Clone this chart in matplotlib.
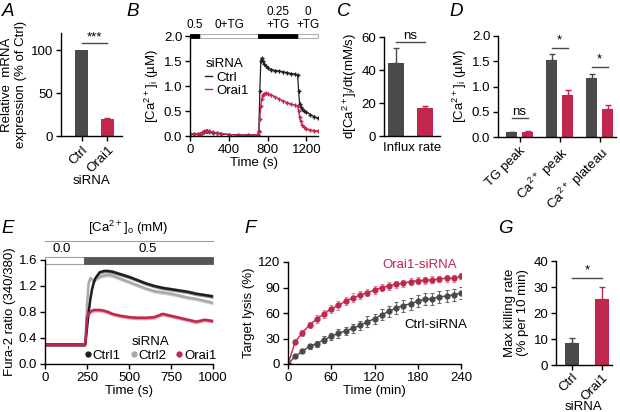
import numpy as np
import matplotlib
matplotlib.use('Agg')
import matplotlib.pyplot as plt
from matplotlib.lines import Line2D
from matplotlib.patches import Rectangle
import matplotlib.transforms as mtransforms

plt.rcParams['font.family'] = ['Liberation Sans', 'DejaVu Sans']
plt.rcParams['font.size'] = 9.5
plt.rcParams['mathtext.default'] = 'regular'
plt.rcParams['axes.linewidth'] = 1.0

GREY = '#4a4a4a'
RED = '#c1264c'
LIGHT = '#a9a9a9'
BLACK = '#1e1e1e'

# ---- A: mRNA expression
a_labels = ['Ctrl', 'Orai1']
a_mrna = [100, 20]
a_err = [0, 1.2]

# ---- B: [Ca2+]i traces
b_time = [0, 40, 80, 100, 120, 140, 160, 180, 200, 240, 280, 320, 400, 500, 600, 700,
          710, 720, 730, 740, 750, 760, 780, 800, 840, 880, 920, 960, 1000, 1040, 1080, 1110,
          1120, 1130, 1140, 1160, 1180, 1200, 1240, 1280, 1320]
b_ctrl = [0.04, 0.04, 0.04, 0.04, 0.06, 0.09, 0.10, 0.10, 0.09, 0.07, 0.06, 0.05, 0.03, 0.02, 0.02, 0.02,
          0.10, 0.90, 1.50, 1.56, 1.50, 1.45, 1.40, 1.37, 1.33, 1.31, 1.30, 1.28, 1.27, 1.25, 1.24, 1.22,
          0.90, 0.65, 0.59, 0.55, 0.51, 0.48, 0.43, 0.39, 0.36]
b_orai = [0.04, 0.04, 0.04, 0.04, 0.07, 0.10, 0.11, 0.11, 0.10, 0.08, 0.06, 0.05, 0.03, 0.02, 0.02, 0.02,
          0.08, 0.35, 0.60, 0.75, 0.82, 0.85, 0.86, 0.85, 0.82, 0.78, 0.74, 0.70, 0.67, 0.64, 0.62, 0.60,
          0.50, 0.38, 0.30, 0.22, 0.18, 0.15, 0.12, 0.11, 0.10]
b_sem = 0.03
b_bar_edges = [0, 100, 705, 1115, 1320]
b_bar_filled = [True, False, True, False]
b_bar_labels = ['0.5', '0+TG', '0.25\n+TG', '0\n+TG']

# ---- C: influx rate
c_rate = [44.5, 17.0]
c_err = [9.0, 1.2]

# ---- D: summary
d_labels = ['TG peak', 'Ca$^{2+}$ peak', 'Ca$^{2+}$ plateau']
d_ctrl = [0.09, 1.53, 1.17]
d_ctrl_err = [0.01, 0.11, 0.07]
d_orai = [0.09, 0.84, 0.56]
d_orai_err = [0.03, 0.09, 0.07]

# ---- E: Fura-2 ratio traces
e_time = [0, 50, 100, 150, 200, 240, 250, 260, 270, 280, 290, 300, 325, 350, 375, 400,
          450, 500, 550, 600, 650, 700, 750, 800, 850, 900, 950, 1000]
e_ctrl1 = [0.3, 0.3, 0.3, 0.3, 0.3, 0.3, 0.55, 0.80, 1.00, 1.15, 1.25, 1.32, 1.41, 1.43, 1.43, 1.42,
           1.38, 1.34, 1.29, 1.24, 1.20, 1.17, 1.15, 1.13, 1.11, 1.08, 1.06, 1.04]
e_ctrl2 = [0.3, 0.3, 0.3, 0.3, 0.3, 0.3, 0.90, 1.25, 1.32, 1.30, 1.28, 1.30, 1.34, 1.36, 1.37, 1.36,
           1.31, 1.26, 1.21, 1.16, 1.12, 1.10, 1.08, 1.05, 1.02, 1.00, 0.97, 0.94]
e_orai = [0.3, 0.3, 0.3, 0.3, 0.3, 0.3, 0.72, 0.78, 0.80, 0.82, 0.83, 0.83, 0.83, 0.82, 0.80, 0.77,
          0.74, 0.72, 0.71, 0.71, 0.72, 0.77, 0.74, 0.71, 0.68, 0.65, 0.68, 0.66]
e_sem = 0.03
e_switch = 231

# ---- F: target lysis
f_time = [0, 10, 20, 30, 40, 50, 60, 70, 80, 90, 100, 110, 120, 130, 140, 150, 160, 170, 180,
          190, 200, 210, 220, 230, 240]
f_orai = [0, 26, 37, 46, 53, 59, 65, 69, 74, 78, 81, 84, 87, 90, 92, 94, 95, 97, 98, 98.5, 99,
          100, 101, 101, 103]
f_orai_err = [0, 3, 3.5, 4, 4.5, 5, 5, 5, 5, 5, 5, 4.5, 4.5, 4.5, 4.5, 4, 4, 4, 4, 4, 4, 4, 4, 4, 3.5]
f_ctrl = [0, 9, 15, 21, 24, 28.6, 32.5, 36, 39, 42, 45.5, 50, 53, 58, 62, 66, 68.6, 71, 74, 76,
          77, 79, 80, 81.5, 83.5]
f_ctrl_err = [0, 2, 2.5, 3, 3.5, 4, 4.5, 5, 5, 5.5, 5.5, 6, 6, 6.5, 6.5, 7, 7, 7, 7, 7, 7, 7, 7, 7, 7]

# ---- G: max killing rate
g_rate = [8.5, 25.2]
g_err = [1.8, 4.7]


def style(ax):
    for s in ['top', 'right']:
        ax.spines[s].set_visible(False)
    ax.tick_params(direction='out', length=3.5, width=1, pad=2, labelsize=9.5)


def bars(ax, x, h, err, colors, width):
    for xi, hi, ei, c in zip(x, h, err, colors):
        ax.bar(xi, hi, width=width, color=c, zorder=2)
        if ei > 0:
            ax.errorbar(xi, hi, yerr=[[0], [ei]], color=c, capsize=2.5,
                        elinewidth=1, capthick=1, zorder=1)


def sig(ax, x0, x1, y, text, dy):
    ax.plot([x0, x1], [y, y], color=GREY, lw=1, clip_on=False)
    ax.text((x0 + x1) / 2, y + dy, text, ha='center', va='bottom', fontsize=9.5)


def letter(x, y, s):
    fig.text(x / 620, 1 - y / 412, s, fontsize=13.5, style='italic', va='top', ha='left')


fig = plt.figure(figsize=(6.2, 4.12), dpi=100)

# ---------------- A
axA = fig.add_axes([61 / 620, 1 - 136 / 412, 61 / 620, 103 / 412])
xa = np.arange(len(a_labels))
bars(axA, xa, a_mrna, a_err, [GREY, RED], 0.5)
axA.set_xlim(-0.79, 1.56)
axA.set_ylim(0, 120)
axA.set_yticks([0, 50, 100])
axA.set_xticks(xa)
axA.set_xticklabels(a_labels, rotation=45, ha='right', rotation_mode='anchor')
axA.set_xlabel('siRNA', fontsize=9.5, labelpad=0)
axA.set_ylabel('Relative  mRNA\nexpression (% of Ctrl)', fontsize=9.5, labelpad=3)
sig(axA, 0, 1, 108, '***', 0)
style(axA)

# ---------------- B
axB = fig.add_axes([190 / 620, 1 - 136 / 412, 128 / 620, 100 / 412])
axB.errorbar(b_time, b_ctrl, yerr=b_sem, color=BLACK, lw=0.9, marker='+', ms=3,
             elinewidth=0.6, capsize=0)
axB.errorbar(b_time, b_orai, yerr=b_sem, color=RED, lw=0.9, marker='+', ms=3,
             elinewidth=0.6, capsize=0)
axB.set_xlim(0, 1320)
axB.set_ylim(0, 2.0)
axB.set_yticks([0, 0.5, 1.0, 1.5, 2.0])
axB.set_yticklabels(['0.0', '0.5', '1.0', '1.5', '2.0'])
axB.set_xticks([0, 400, 800, 1200])
axB.set_xlabel('Time (s)', fontsize=9.5, labelpad=1)
axB.set_ylabel('[Ca$^{2+}$]$_i$ (µM)', fontsize=9.5, labelpad=2)
trB = mtransforms.blended_transform_factory(axB.transData, axB.transAxes)
for i in range(len(b_bar_filled)):
    x0, x1 = b_bar_edges[i], b_bar_edges[i + 1]
    if b_bar_filled[i]:
        r = Rectangle((x0, 0.985), x1 - x0, 0.035, transform=trB, facecolor='black',
                      edgecolor='black', lw=0.6, clip_on=False)
    else:
        r = Rectangle((x0, 0.985), x1 - x0, 0.035, transform=trB, facecolor='white',
                      edgecolor='#b0b0b0', lw=0.8, clip_on=False)
    axB.add_patch(r)
    axB.text((x0 + x1) / 2, 1.05, b_bar_labels[i], transform=trB, ha='center',
             va='bottom', fontsize=8.5, linespacing=1.1)
leg = axB.legend([Line2D([], [], color=BLACK, lw=1), Line2D([], [], color=RED, lw=1)],
                 ['Ctrl', 'Orai1'], title='siRNA', loc='upper left',
                 bbox_to_anchor=(0.12, 0.78), frameon=False, handlelength=0.5,
                 handletextpad=0.3, fontsize=9.5, title_fontsize=9.5, labelspacing=0.1,
                 borderaxespad=0, borderpad=0)
leg._legend_box.align = 'left'
style(axB)

# ---------------- C
axC = fig.add_axes([384 / 620, 1 - 136 / 412, 56 / 620, 99 / 412])
xc = np.arange(2)
bars(axC, xc, c_rate, c_err, [GREY, RED], 0.55)
axC.set_xlim(-0.41, 1.52)
axC.set_ylim(0, 60)
axC.set_yticks([0, 20, 40, 60])
axC.set_xticks([])
axC.set_xlabel('Influx rate', fontsize=9.5, labelpad=4)
axC.set_ylabel('d[Ca$^{2+}$]$_i$/dt(mM/s)', fontsize=9.5, labelpad=2)
sig(axC, 0, 1, 57, 'ns', 0)
style(axC)

# ---------------- D
axD = fig.add_axes([498 / 620, 1 - 137 / 412, 118 / 620, 101 / 412])
xd = np.arange(len(d_labels))
bars(axD, xd - 0.2, d_ctrl, d_ctrl_err, [GREY] * 3, 0.28)
bars(axD, xd + 0.2, d_orai, d_orai_err, [RED] * 3, 0.28)
axD.set_xlim(-0.54, 2.41)
axD.set_ylim(0, 2.0)
axD.set_yticks([0, 0.5, 1.0, 1.5, 2.0])
axD.set_yticklabels(['0.0', '0.5', '1.0', '1.5', '2.0'])
axD.set_xticks(xd)
axD.set_xticklabels(d_labels, rotation=45, ha='right', rotation_mode='anchor')
axD.set_ylabel('[Ca$^{2+}$]$_i$ (µM)', fontsize=9.5, labelpad=2)
sig(axD, -0.2, 0.2, 0.37, 'ns', 0)
sig(axD, 0.8, 1.2, 1.77, '*', 0.02)
sig(axD, 1.8, 2.2, 1.39, '*', 0.02)
style(axD)

# ---------------- E
axE = fig.add_axes([45 / 620, 1 - 364 / 412, 168 / 620, 104 / 412])
for y, c in [(e_ctrl2, LIGHT), (e_ctrl1, BLACK), (e_orai, RED)]:
    y = np.array(y)
    axE.fill_between(e_time, y - e_sem, y + e_sem, color=c, alpha=0.45, lw=0)
    axE.plot(e_time, y, color=c, lw=1.8)
axE.set_xlim(0, 1000)
axE.set_ylim(0, 1.6)
axE.set_yticks([0, 0.4, 0.8, 1.2, 1.6])
axE.set_yticklabels(['0.0', '0.4', '0.8', '1.2', '1.6'])
axE.set_xticks([0, 250, 500, 750, 1000])
axE.set_xlabel('Time (s)', fontsize=9.5, labelpad=1)
axE.set_ylabel('Fura-2 ratio (340/380)', fontsize=9.5, labelpad=2)
trE = mtransforms.blended_transform_factory(axE.transData, axE.transAxes)
axE.add_patch(Rectangle((0, 0.96), e_switch, 0.065, transform=trE, facecolor='white',
                        edgecolor='#a0a0a0', lw=0.8, clip_on=False))
axE.add_patch(Rectangle((e_switch, 0.96), 1000 - e_switch, 0.065, transform=trE,
                        facecolor='#555555', edgecolor='#555555', lw=0.6, clip_on=False))
axE.text(100, 1.05, '0.0', transform=trE, ha='center', va='bottom', fontsize=9.5)
axE.text(612, 1.05, '0.5', transform=trE, ha='center', va='bottom', fontsize=9.5)
axE.plot([0, 1000], [1.18, 1.18], transform=trE, color='#a0a0a0', lw=0.8, clip_on=False)
axE.text(494, 1.22, '[Ca$^{2+}$]$_o$ (mM)', transform=trE, ha='center', va='bottom',
         fontsize=9.5)
hE = [Line2D([], [], color=c, marker='o', ls='none', ms=3.5) for c in [BLACK, LIGHT, RED]]
legE = axE.legend(hE, ['Ctrl1', 'Ctrl2', 'Orai1'], title='siRNA', ncol=3,
                  loc='lower right', bbox_to_anchor=(1.02, 0.02), frameon=False,
                  handlelength=0.4, handletextpad=0.15, columnspacing=0.8, fontsize=9.5,
                  title_fontsize=9.5, borderaxespad=0, borderpad=0, labelspacing=0.1)
style(axE)

# ---------------- F
axF = fig.add_axes([288 / 620, 1 - 364 / 412, 173 / 620, 102 / 412])
axF.errorbar(f_time, f_ctrl, yerr=f_ctrl_err, color=GREY, ecolor='#6a6a6a', lw=1,
             marker='o', ms=3.5, elinewidth=0.8, capsize=1.5, capthick=0.8)
axF.errorbar(f_time, f_orai, yerr=f_orai_err, color=RED, ecolor='#e0879a', lw=1,
             marker='o', ms=3.5, elinewidth=0.8, capsize=1.5, capthick=0.8)
axF.set_xlim(0, 240)
axF.set_ylim(0, 120)
axF.set_xticks([0, 60, 120, 180, 240])
axF.set_yticks([0, 30, 60, 90, 120])
axF.set_xlabel('Time (min)', fontsize=9.5, labelpad=1)
axF.set_ylabel('Target lysis (%)', fontsize=9.5, labelpad=2)
axF.text(234, 116, 'Orai1-siRNA', color=RED, ha='right', va='center', fontsize=9.5)
axF.text(248, 46, 'Ctrl-siRNA', color='black', ha='right', va='center', fontsize=9.5,
         clip_on=False)
style(axF)

# ---------------- G
axG = fig.add_axes([556 / 620, 1 - 365 / 412, 56 / 620, 104 / 412])
xg = np.arange(2)
bars(axG, xg, g_rate, g_err, [GREY, RED], 0.46)
axG.set_xlim(-0.52, 1.32)
axG.set_ylim(0, 40)
axG.set_yticks([0, 10, 20, 30, 40])
axG.set_xticks(xg)
axG.set_ylabel('Max killing rate\n(% per 10 min)', fontsize=9.5, labelpad=3)
sig(axG, 0, 1, 33.6, '*', 0.3)
style(axG)
axG.tick_params(axis='x', pad=1)
axG.set_xticklabels(a_labels, rotation=45, ha='right', rotation_mode='anchor')
axG.set_xlabel('siRNA', fontsize=9.5, labelpad=-1)

letter(2, 3, 'A')
letter(126, 3, 'B')
letter(337, 3, 'C')
letter(449, 3, 'D')
letter(1, 220, 'E')
letter(244, 220, 'F')
letter(498, 220, 'G')

fig.savefig('out.png', dpi=100)
